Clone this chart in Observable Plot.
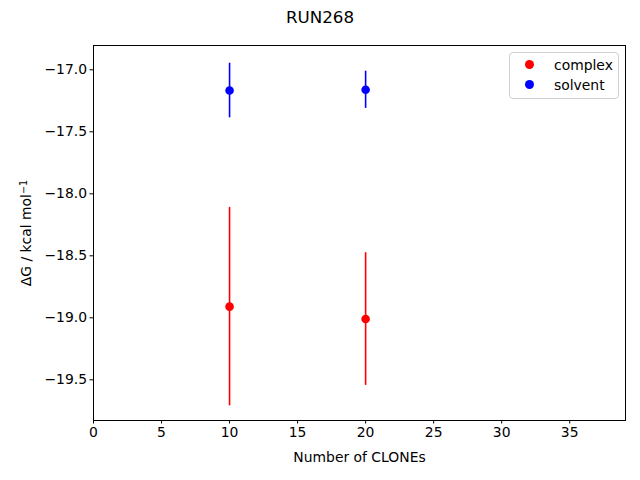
<!DOCTYPE html>
<html>
<head>
<meta charset="utf-8">
<script src="https://cdn.jsdelivr.net/npm/d3@7"></script>
<script src="https://cdn.jsdelivr.net/npm/@observablehq/plot@0.6"></script>
<style>
  body { margin: 0; background: white; }
  #wrap { position: relative; width: 640px; height: 480px; font-family: "DejaVu Sans", sans-serif; }
  #title { position: absolute; left: 0; width: 640px; top: 7px; text-align: center; font-size: 16.7px; }
  #legend { position: absolute; left: 509px; top: 52px; width: 110px; height: 47px; border: 1px solid #d0d0d0; border-radius: 4px; background: rgba(255,255,255,0.8); font-size: 13.9px; box-sizing: border-box; }
  .item { position: absolute; left: 0; height: 20px; line-height: 20px; }
  .sw { position: absolute; left: 15px; top: 5px; width: 9px; height: 9px; border-radius: 50%; }
  .lab { position: absolute; left: 44px; white-space: nowrap; }
</style>
</head>
<body>
<div id="wrap">
  <div id="title">RUN268</div>
  <div id="chart"></div>
  <div id="legend"></div>
</div>
<script>
const clones = [10, 20];
const complexDG = [-18.91, -19.01];
const complexErr = [0.80, 0.535];
const solventDG = [-17.167, -17.161];
const solventErr = [0.22, 0.15];
const seriesNames = ["complex", "solvent"];
const seriesColors = ["#ff0000", "#0000ff"];
const xTicks = [0, 5, 10, 15, 20, 25, 30, 35];
const yTicks = [-17.0, -17.5, -18.0, -18.5, -19.0, -19.5];

const rows = [];
clones.forEach((c, i) => {
  rows.push({x: c, y: complexDG[i], e: complexErr[i], s: "complex"});
  rows.push({x: c, y: solventDG[i], e: solventErr[i], s: "solvent"});
});

const plot = Plot.plot({
  width: 640,
  height: 480,
  marginTop: 45,
  marginBottom: 60,
  marginLeft: 93,
  marginRight: 15,
  style: {fontFamily: "DejaVu Sans, sans-serif", fontSize: "13.9px", color: "black", background: "white"},
  x: {domain: [0, 39.1]},
  y: {domain: [-19.828, -16.804]},
  color: {domain: seriesNames, range: seriesColors},
  marks: [
    Plot.frame({stroke: "black", strokeWidth: 1}),
    Plot.axisX({ticks: xTicks, tickSize: 3.5, tickPadding: 3, tickFormat: d3.format("d"),
      label: "Number of CLONEs", labelAnchor: "center", labelArrow: "none", labelOffset: 41}),
    Plot.axisY({ticks: yTicks, tickSize: 3.5, tickPadding: 3, tickFormat: d3.format(".1f"),
      label: "ΔG / kcal mol−1", labelAnchor: "center", labelArrow: "none", labelOffset: 72}),
    Plot.ruleX(rows, {x: "x", y1: d => d.y - d.e, y2: d => d.y + d.e, stroke: "s", strokeWidth: 1.6}),
    Plot.dot(rows, {x: "x", y: "y", fill: "s", r: 4.3})
  ]
});
document.getElementById("chart").appendChild(plot);

// superscript for the unit exponent
plot.querySelectorAll("text").forEach(t => {
  if (t.textContent === "ΔG / kcal mol−1") {
    t.textContent = "ΔG / kcal mol";
    const sup = document.createElementNS("http://www.w3.org/2000/svg", "tspan");
    sup.setAttribute("dy", "-0.45em");
    sup.setAttribute("font-size", "0.7em");
    sup.textContent = "−1";
    t.appendChild(sup);
  }
});

const legend = document.getElementById("legend");
seriesNames.forEach((n, i) => {
  const it = document.createElement("div");
  it.className = "item";
  it.style.top = (2 + i * 20) + "px";
  it.innerHTML = `<span class="sw" style="background:${seriesColors[i]}"></span><span class="lab">${n}</span>`;
  legend.appendChild(it);
});
</script>
</body>
</html>
